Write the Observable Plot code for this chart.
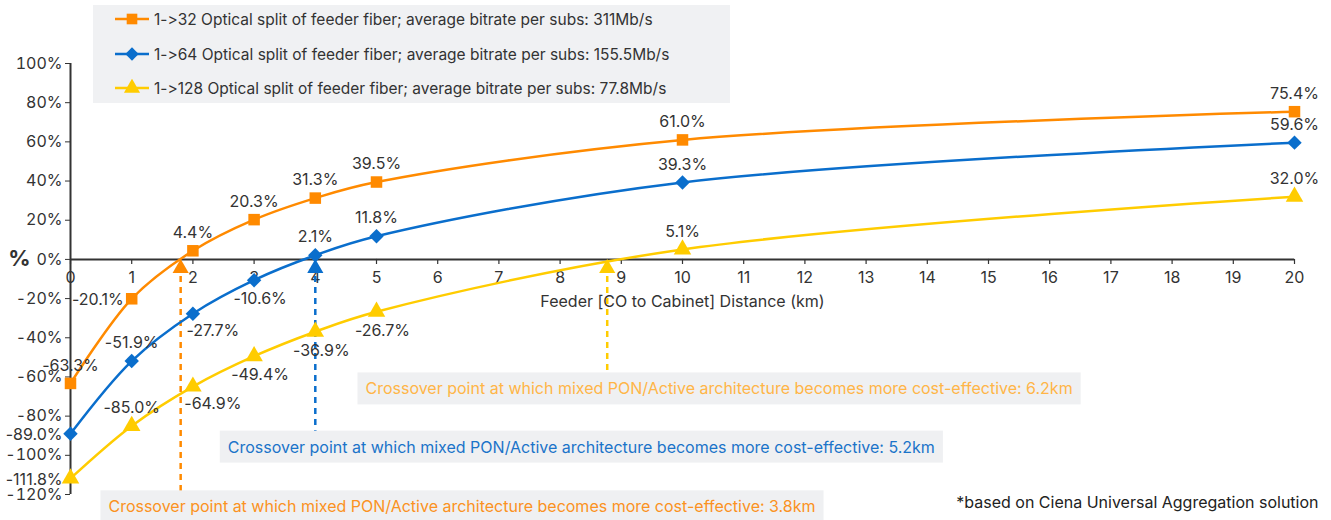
<!DOCTYPE html>
<html><head><meta charset="utf-8">
<script src="https://cdn.jsdelivr.net/npm/d3@7"></script>
<script src="https://cdn.jsdelivr.net/npm/@observablehq/plot@0.6"></script>
<style>
body{margin:0;background:#fff;font-family:Inter,"Noto Sans",sans-serif;font-variant-ligatures:none;font-feature-settings:"calt" 0,"liga" 0;}
#wrap{position:relative;width:1331px;height:520px;overflow:hidden}
#wrap svg text{font-variant-ligatures:none;font-feature-settings:"calt" 0,"liga" 0;}
#legend{position:absolute;left:93px;top:5px;width:637px;height:98px;background:#f0f1f3;}
.row{position:absolute;left:22px;height:20px;display:flex;align-items:center;font-size:15.5px;color:#333;white-space:nowrap}
.row svg{margin-right:5px}
</style></head><body><div id="wrap"></div>
<script>
// ---- data ----
const distances = [0, 1, 2, 3, 4, 5, 10, 20];
const split32  = [-63.3, -20.1, 4.4, 20.3, 31.3, 39.5, 61.0, 75.4];
const split64  = [-89.0, -51.9, -27.7, -10.6, 2.1, 11.8, 39.3, 59.6];
const split128 = [-111.8, -85.0, -64.9, -49.4, -36.9, -26.7, 5.1, 32.0];
const seriesNames = [
  "1->32 Optical split of feeder fiber; average bitrate per subs: 311Mb/s",
  "1->64 Optical split of feeder fiber; average bitrate per subs: 155.5Mb/s",
  "1->128 Optical split of feeder fiber; average bitrate per subs: 77.8Mb/s"
];
const xTicks = [0,1,2,3,4,5,6,7,8,9,10,11,12,13,14,15,16,17,18,19,20];
const yTicks = [100, 80, 60, 40, 20, 0, -20, -40, -60, -80, -100, -120];
const crossoverKm = [1.8, 4.0, 8.77];
const crossoverText = [
  "Crossover point at which mixed PON/Active architecture becomes more cost-effective: 3.8km",
  "Crossover point at which mixed PON/Active architecture becomes more cost-effective: 5.2km",
  "Crossover point at which mixed PON/Active architecture becomes more cost-effective: 6.2km"
];
const xLabel = "Feeder [CO to Cabinet] Distance (km)";
const footnote = "*based on Ciena Universal Aggregation solution";

// ---- presentation config ----
const seriesValues = [split32, split64, split128];
const colors = ["#ff8a00", "#0a6ecc", "#ffcc00"];
const noteColors = ["#fb9222", "#1b74c9", "#ffb547"];
const symbols = ["square", "diamond2", "triangle"];
const labelPos = [
  ["above","left","above","above","above","above","above","above"],
  ["left","above","belowRight","below","above","above","above","above"],
  ["left","above","belowRight","below","below","below","above","above"]
];
const placements = {
  above: {dx: 0, dy: -18, textAnchor: "middle"},
  left: {dx: -8, dy: 1, textAnchor: "end"},
  below: {dx: 6, dy: 19, textAnchor: "middle"},
  belowRight: {dx: 20, dy: 17, textAnchor: "middle"}
};
// annotation box anchor (data units) and dashed line end
const noteX = [0.62, 2.57, 4.82];
const noteY = [-126.5, -96, -66.3];
const noteLineEnd = [-118.4, -88.3, -58];

const fmt = v => v.toFixed(1) + "%";
const FS = 16;

const marks = [];
marks.push(Plot.ruleX([0], {y1: -120, y2: 100, stroke: "#333", strokeWidth: 2}));
marks.push(Plot.axisY({ticks: yTicks, tickFormat: d => d + "%", tickSize: 5, tickPadding: 3, fontSize: FS, color: "#333", label: null}));
marks.push(Plot.ruleY([0], {x1: 0, x2: 20, stroke: "#333", strokeWidth: 2}));
marks.push(Plot.ruleX(xTicks, {x: d => d, y1: 0, y2: -2.6, stroke: "#333", strokeWidth: 1.2}));
marks.push(Plot.text(xTicks, {x: d => d, y: 0, dy: 18, text: d => String(d), fontSize: FS, fill: "#333"}));
marks.push(Plot.text([xLabel], {x: 10, y: 0, dy: 42, text: d => d, fontSize: FS, fill: "#333"}));
marks.push(Plot.text(["%"], {x: 0, y: 0, dx: -51, text: d => d, fontSize: 22, fontWeight: "bold", fill: "#333"}));

crossoverKm.forEach((km, i) => {
  marks.push(Plot.ruleX([km], {x: d => d, y1: 0, y2: noteLineEnd[i], dy: 6, stroke: colors[i], strokeWidth: 2.5, strokeDasharray: "6,5"}));
  marks.push(Plot.dot([km], {x: d => d, y: 0, dy: 9, symbol: "triangle", r: 6, fill: colors[i]}));
  marks.push(Plot.text([crossoverText[i]], {x: noteX[i], y: noteY[i], text: d => d, textAnchor: "start", fontSize: FS, fill: noteColors[i], ariaDescription: "xover"}));
});

seriesValues.forEach((vals, s) => {
  const rows = distances.map((km, j) => ({km, pct: vals[j], pos: labelPos[s][j]}));
  marks.push(Plot.line(rows, {x: "km", y: "pct", stroke: colors[s], strokeWidth: 2.5, curve: "catmull-rom"}));
  marks.push(Plot.dot(rows, {x: "km", y: "pct", symbol: symbols[s], r: 6.5, fill: colors[s], stroke: "none"}));
  for (const [p, o] of Object.entries(placements)) {
    marks.push(Plot.text(rows.filter(d => d.pos === p), {x: "km", y: "pct", text: d => fmt(d.pct), dx: o.dx, dy: o.dy, textAnchor: o.textAnchor, fontSize: FS, fill: "#333"}));
  }
});

marks.push(Plot.text([footnote], {frameAnchor: "bottom-right", dx: 24, dy: 13, text: d => d, textAnchor: "end", fontSize: FS, fill: "#222"}));

const chart = Plot.plot({
  width: 1331, height: 520,
  marginLeft: 70, marginRight: 37, marginTop: 63, marginBottom: 26,
  style: {fontFamily: "Inter, 'Noto Sans', sans-serif", background: "#fff", overflow: "visible"},
  x: {domain: [0, 20], axis: null},
  y: {domain: [-120, 100], axis: null},
  marks
});
const wrap = document.getElementById("wrap");
chart.style.position = "absolute"; chart.style.left = "0"; chart.style.top = "0";
wrap.appendChild(chart);

d3.select(chart).selectAll("g[aria-description=xover] text").each(function() {
  const b = this.getBBox();
  d3.select(this.parentNode).insert("rect", "text")
    .attr("x", b.x - 8).attr("y", b.y - 6).attr("width", b.width + 16).attr("height", b.height + 12)
    .attr("fill", "#eff0f2").attr("transform", this.getAttribute("transform"));
});

const legend = document.createElement("div");
legend.id = "legend";
const rowTops = [4, 39, 73];
const symMap = {square: d3.symbolSquare, diamond2: d3.symbolDiamond2, triangle: d3.symbolTriangle};
seriesNames.forEach((name, i) => {
  const row = document.createElement("div");
  row.className = "row"; row.style.top = rowTops[i] + "px";
  const svg = d3.create("svg").attr("width", 34).attr("height", 18);
  svg.append("line").attr("x1", 0).attr("x2", 34).attr("y1", 9).attr("y2", 9).attr("stroke", colors[i]).attr("stroke-width", 2.5);
  svg.append("path").attr("d", d3.symbol(symMap[symbols[i]], Math.PI * 6 * 6)()).attr("transform", "translate(17,9)").attr("fill", colors[i]);
  row.appendChild(svg.node());
  const t = document.createElement("span"); t.textContent = name;
  row.appendChild(t);
  legend.appendChild(row);
});
wrap.appendChild(legend);
</script></body></html>
